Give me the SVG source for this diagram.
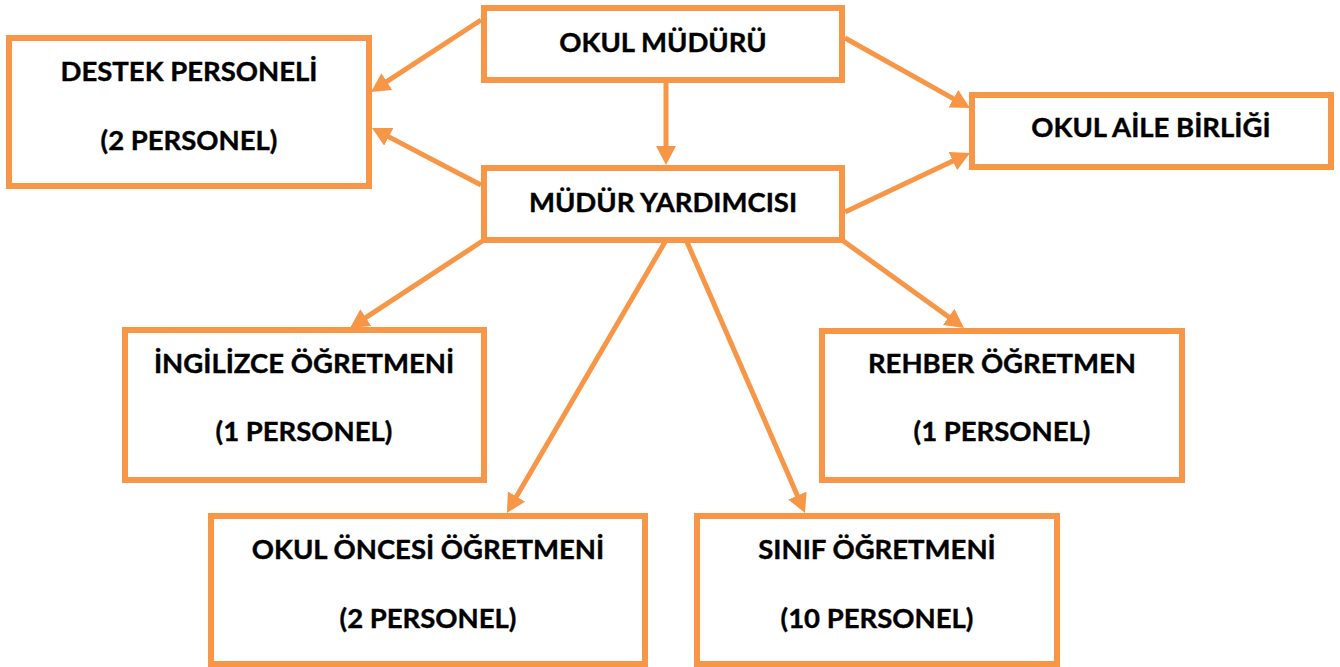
<svg xmlns="http://www.w3.org/2000/svg" width="1340" height="667" viewBox="0 0 1340 667">
<style>
.box{fill:#ffffff;stroke:#F79646;stroke-width:6}
.lbl{font-family:Lato,"Open Sans","Liberation Sans",sans-serif;font-weight:700;font-size:27.5px;fill:#000000;text-anchor:middle;stroke:#000000;stroke-width:0.4}
.con{stroke:#F79646;stroke-width:5;fill:none;marker-end:url(#ah)}
</style>
<defs>
<marker id="ah" markerUnits="userSpaceOnUse" markerWidth="20" markerHeight="20" refX="7" refY="10" orient="auto">
<path d="M0,0 L19,10 L0,20 z" fill="#F79646"/>
</marker>
</defs>
<rect width="1340" height="667" fill="#ffffff"/>
<g id="connectors">
<line class="con" x1="481" y1="20" x2="381.0" y2="85.4"/>
<line class="con" x1="481" y1="185" x2="382.6" y2="133.6"/>
<line class="con" x1="666" y1="83" x2="666" y2="153"/>
<line class="con" x1="845" y1="38" x2="959.5" y2="102.1"/>
<line class="con" x1="845" y1="212" x2="959.2" y2="158.1"/>
<line class="con" x1="484" y1="240" x2="360.0" y2="321.4"/>
<line class="con" x1="665" y1="242" x2="513.0" y2="502.6"/>
<line class="con" x1="687" y1="242" x2="800.2" y2="502.0"/>
<line class="con" x1="842" y1="240" x2="954.3" y2="321.0"/>
</g>
<g id="okul-muduru">
<rect class="box" x="484" y="8" width="358" height="72"/>
<text class="lbl" x="663" y="52">OKUL MÜDÜRÜ</text>
</g>
<g id="mudur-yardimcisi">
<rect class="box" x="484" y="168" width="358" height="72"/>
<text class="lbl" x="663" y="212">MÜDÜR YARDIMCISI</text>
</g>
<g id="destek-personeli">
<rect class="box" x="9" y="38" width="360" height="148"/>
<text class="lbl" x="189" y="81">DESTEK PERSONELİ</text>
<text class="lbl" x="189" y="150">(2 PERSONEL)</text>
</g>
<g id="okul-aile-birligi">
<rect class="box" x="972" y="95" width="359" height="72"/>
<text class="lbl" x="1151" y="137">OKUL AİLE BİRLİĞİ</text>
</g>
<g id="ingilizce">
<rect class="box" x="125" y="330" width="359" height="150"/>
<text class="lbl" x="304" y="373">İNGİLİZCE ÖĞRETMENİ</text>
<text class="lbl" x="304" y="441">(1 PERSONEL)</text>
</g>
<g id="rehber">
<rect class="box" x="822" y="331" width="360" height="149"/>
<text class="lbl" x="1002" y="373">REHBER ÖĞRETMEN</text>
<text class="lbl" x="1002" y="441">(1 PERSONEL)</text>
</g>
<g id="okul-oncesi">
<rect class="box" x="211" y="516" width="434" height="148"/>
<text class="lbl" x="428" y="559">OKUL ÖNCESİ ÖĞRETMENİ</text>
<text class="lbl" x="428" y="628">(2 PERSONEL)</text>
</g>
<g id="sinif">
<rect class="box" x="697" y="516" width="360" height="148"/>
<text class="lbl" x="877" y="559">SINIF ÖĞRETMENİ</text>
<text class="lbl" x="877" y="628">(10 PERSONEL)</text>
</g>
</svg>
